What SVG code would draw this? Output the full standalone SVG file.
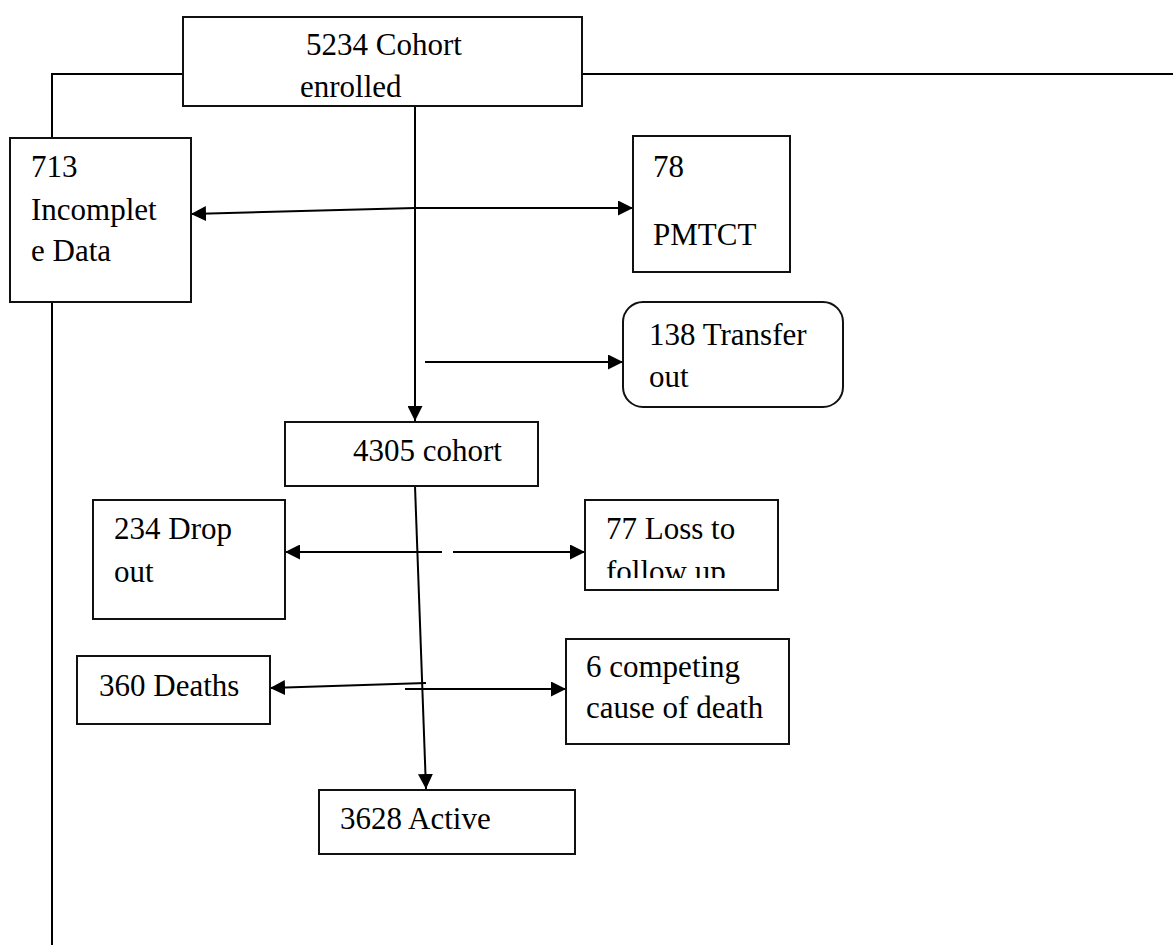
<svg xmlns="http://www.w3.org/2000/svg" width="1173" height="945" viewBox="0 0 1173 945">
<style>
.box{fill:#fff;stroke:#111;stroke-width:2}
.ln{fill:none;stroke:#000;stroke-width:2}
.t{font-family:"Liberation Serif","DejaVu Serif","Times New Roman",serif;font-size:31px;fill:#000}
</style>
<defs>
<marker id="ah" viewBox="0 0 15 15" refX="15" refY="7.5" markerWidth="15" markerHeight="15" markerUnits="userSpaceOnUse" orient="auto">
<path d="M0,0 L15,7.5 L0,15 Z" fill="#000"/>
</marker>
<clipPath id="lossclip"><rect x="585" y="500" width="193" height="78"/></clipPath>
</defs>
<g id="connectors">
<polyline class="ln" points="183,74 52,74 52,138"/>
<line class="ln" x1="52" y1="302" x2="52" y2="945"/>
<line class="ln" x1="582" y1="74" x2="1173" y2="74"/>
<line class="ln" x1="415" y1="106" x2="415" y2="421" marker-end="url(#ah)"/>
<polyline class="ln" points="415,208 191,214" marker-end="url(#ah)"/>
<line class="ln" x1="415" y1="208" x2="633" y2="208" marker-end="url(#ah)"/>
<line class="ln" x1="425" y1="362" x2="623" y2="362" marker-end="url(#ah)"/>
<line class="ln" x1="415" y1="486" x2="426" y2="789" marker-end="url(#ah)"/>
<line class="ln" x1="442" y1="552" x2="285" y2="552" marker-end="url(#ah)"/>
<line class="ln" x1="453" y1="552" x2="585" y2="552" marker-end="url(#ah)"/>
<line class="ln" x1="426" y1="683" x2="270" y2="688" marker-end="url(#ah)"/>
<line class="ln" x1="405" y1="689" x2="566" y2="689" marker-end="url(#ah)"/>
</g>
<g id="n-enrolled">
<rect class="box" x="183" y="17" width="399" height="89"/>
<text class="t" x="306" y="55">5234 Cohort</text>
<text class="t" x="300" y="97">enrolled</text>
</g>
<g id="n-incomplete">
<rect class="box" x="10" y="138" width="181" height="164"/>
<text class="t" x="31" y="177">713</text>
<text class="t" x="31" y="220">Incomplet</text>
<text class="t" x="31" y="261">e Data</text>
</g>
<g id="n-pmtct">
<rect class="box" x="633" y="136" width="157" height="136"/>
<text class="t" x="653" y="177">78</text>
<text class="t" x="653" y="245">PMTCT</text>
</g>
<g id="n-transfer">
<rect class="box" x="623" y="302" width="220" height="105" rx="20" ry="20"/>
<text class="t" x="649" y="345">138 Transfer</text>
<text class="t" x="649" y="387">out</text>
</g>
<g id="n-cohort">
<rect class="box" x="285" y="422" width="253" height="64"/>
<text class="t" x="353" y="461">4305 cohort</text>
</g>
<g id="n-dropout">
<rect class="box" x="93" y="500" width="192" height="119"/>
<text class="t" x="114" y="539">234 Drop</text>
<text class="t" x="114" y="582">out</text>
</g>
<g id="n-loss">
<rect class="box" x="585" y="500" width="193" height="90"/>
<text class="t" x="606" y="539">77 Loss to</text>
<text class="t" x="606" y="582" clip-path="url(#lossclip)">follow up</text>
</g>
<g id="n-deaths">
<rect class="box" x="77" y="656" width="193" height="68"/>
<text class="t" x="99" y="696">360 Deaths</text>
</g>
<g id="n-competing">
<rect class="box" x="566" y="639" width="223" height="105"/>
<text class="t" x="586" y="677">6 competing</text>
<text class="t" x="586" y="718">cause of death</text>
</g>
<g id="n-active">
<rect class="box" x="319" y="790" width="256" height="64"/>
<text class="t" x="340" y="829">3628 Active</text>
</g>
</svg>
